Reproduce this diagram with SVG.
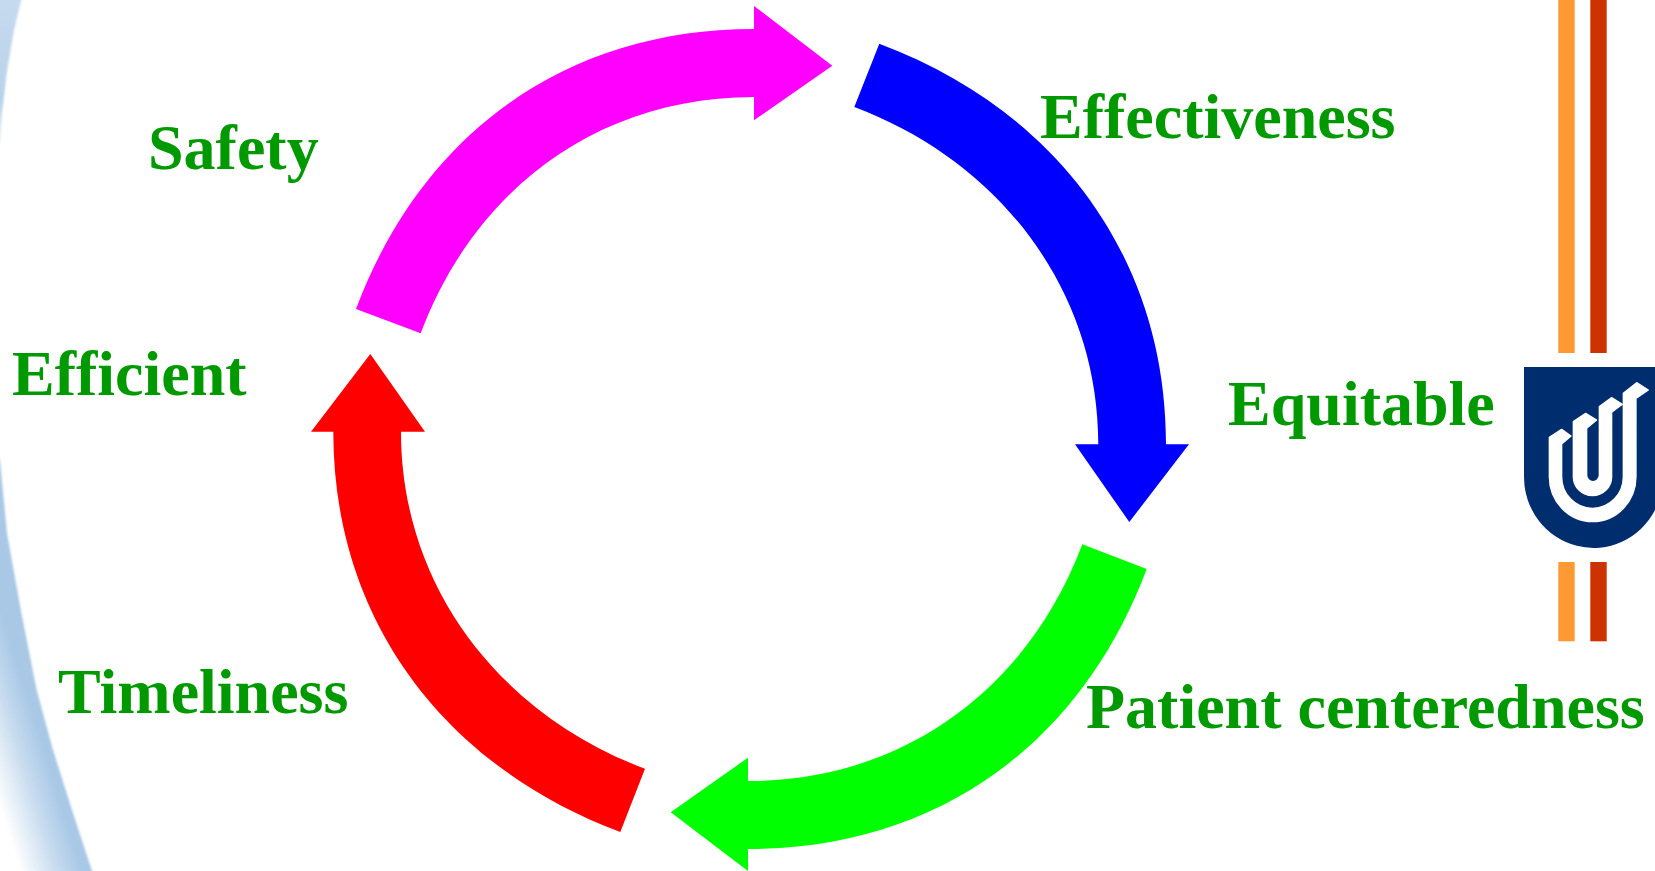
<svg xmlns="http://www.w3.org/2000/svg" width="1655" height="871" viewBox="0 0 1655 871">
<defs>
<linearGradient id="swB" gradientUnits="userSpaceOnUse" x1="20" y1="871" x2="87" y2="850"><stop offset="0" stop-color="#ffffff"/><stop offset=".5" stop-color="#c8dcef"/><stop offset=".85" stop-color="#a8c8e6"/><stop offset="1" stop-color="#a8c8e6"/></linearGradient>
<linearGradient id="swT" gradientUnits="userSpaceOnUse" x1="0" y1="0" x2="0" y2="144"><stop offset="0" stop-color="#c6daee"/><stop offset=".7" stop-color="#b9d2ea"/><stop offset="1" stop-color="#e8f0f8"/></linearGradient>
<filter id="soft" x="-20%" y="-5%" width="140%" height="110%"><feGaussianBlur stdDeviation="0.8"/></filter>
</defs>
<style>
text{font-family:"Liberation Serif","Times New Roman",serif;font-weight:bold;font-size:64px;fill:#009900}
.orange{fill:#ff9933}.rust{fill:#cc3300}
</style>
<rect width="1655" height="871" fill="#ffffff"/>
<g id="background">
<path d="M-3,-3H22L14,30L6.7,73L1.7,117L0,144H-3Z" fill="url(#swT)" filter="url(#soft)"/>
<path d="M-3,455L0,461L7,533L21,611L36.7,690L53,750L73,813L93,874H-3Z" fill="url(#swB)" filter="url(#soft)"/>
</g>
<g id="connectors">
<path id="arrow-safety" fill="#ff00ff" d="M356,309C422,133 566,29 754,29V6L832.3,65.7L754,120.3V97C599,97 475.1,188.3 420.7,333.3Z"/>
<path id="arrow-effectiveness" fill="#0000ff" d="M879.3,43.7C1055.3,109.7 1166,256.3 1166,444.3H1189L1129.3,522L1075,444.3H1098.3C1098.3,289.3 999.3,161.4 854.3,107Z"/>
<path id="arrow-patient" fill="#00ff00" d="M1146.7,569C1080.7,745 936,849 748,849V871L670.7,812.3L748,757.7V781C903,781 1027.9,689.3 1082.3,544.3Z"/>
<path id="arrow-timeliness" fill="#ff0000" d="M620.3,832C444.3,766 333.3,619.7 333.3,431.7H311L370.3,354L425,431.7H401C401,586.7 500,714.3 645,768.7Z"/>
</g>
<g id="node-effectiveness"><text x="1040" y="138">Effectiveness</text></g>
<g id="node-equitable"><text x="1228" y="425">Equitable</text></g>
<g id="node-patient"><text x="1086" y="728">Patient centeredness</text></g>
<g id="node-timeliness"><text x="58" y="713">Timeliness</text></g>
<g id="node-efficient"><text x="12" y="395">Efficient</text></g>
<g id="node-safety"><text x="148" y="169">Safety</text></g>
<g id="logo">
<rect class="orange" x="1558.3" y="0" width="16.4" height="353"/>
<rect class="rust" x="1590.3" y="0" width="16.4" height="353"/>
<rect class="orange" x="1558.3" y="562" width="16.4" height="79.3"/>
<rect class="rust" x="1590.3" y="562" width="16.4" height="79.3"/>
<path fill="#002d6e" d="M1524,367H1655V510A69.5,71 0 0 1 1524,477Z"/>
<g transform="translate(1515,360) scale(.3333)" fill="#ffffff" stroke="#ffffff" stroke-width="4" stroke-linejoin="round">
<path d="M103,232L140,208L168,228L140,252V350A92.5,95 0 0 0 325,350V100L365,68L400,90L363,115V350A130,135 0 0 1 103,350Z"/>
<path d="M175,185L212,160L245,180L215,205V346A19,19 0 0 0 253,346V140L290,113L322,133L290,157V350A57.5,57 0 0 1 175,350Z"/>
</g>
</g>
</svg>
